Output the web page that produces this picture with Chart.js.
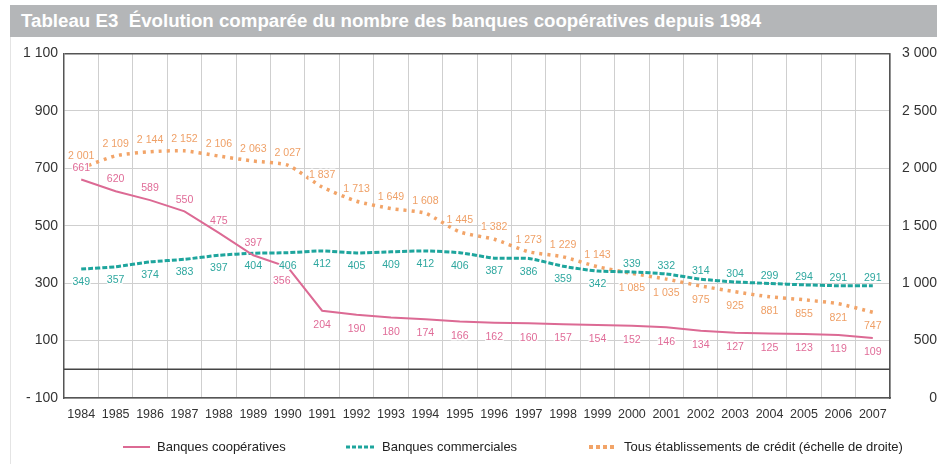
<!DOCTYPE html>
<html>
<head>
<meta charset="utf-8">
<script src="https://cdn.jsdelivr.net/npm/chart.js@4"></script>
<style>
  html, body { margin: 0; padding: 0; background: #fff; overflow: hidden; }
  body { width: 937px; height: 464px; position: relative; }
  #title {
    position: absolute; left: 10px; right: 0; top: 5px; height: 32px;
    background: #b4b6b8; color: #fff;
    font: bold 18.7px "Liberation Sans", Arial, sans-serif;
    line-height: 32px; padding-left: 11px; white-space: nowrap;
  }
  #frame { position: absolute; left: 10px; top: 37px; width: 1px; height: 427px; background: #e4e4e4; }
  #wrap { position: absolute; left: 0; top: 37px; width: 937px; height: 427px; }
</style>
</head>
<body>
<div id="title">Tableau E3&nbsp; Évolution comparée du nombre des banques coopératives depuis 1984</div>
<div id="frame"></div>
<div id="wrap"><canvas id="chart" width="937" height="427"></canvas></div>
<script>
const years = ["1984", "1985", "1986", "1987", "1988", "1989", "1990", "1991", "1992", "1993", "1994", "1995",
               "1996", "1997", "1998", "1999", "2000", "2001", "2002", "2003", "2004", "2005", "2006", "2007"];

const cooperatives = [661, 620, 589, 550, 475, 397, 356, 204, 190, 180, 174, 166,
                      162, 160, 157, 154, 152, 146, 134, 127, 125, 123, 119, 109];

const commerciales = [349, 357, 374, 383, 397, 404, 406, 412, 405, 409, 412, 406,
                      387, 386, 359, 342, 339, 332, 314, 304, 299, 294, 291, 291];

// right axis
const tousEtablissements = [2001, 2109, 2144, 2152, 2106, 2063, 2027, 1837, 1713, 1649, 1608, 1445,
                            1382, 1273, 1229, 1143, 1085, 1035, 975, 925, 881, 855, 821, 747];

const seriesNames = ["Banques coopératives", "Banques commerciales", "Tous établissements de crédit (échelle de droite)"];

const pink = "#dc6a94";
const teal = "#1ea59d";
const orange = "#f2a468";

// labels above the line up to this index, below after it
const labelSplit = [6, 16, 16];

function fmt(v) {
    if (v < 0) return "- " + fmt(-v);
    return String(v).replace(/\B(?=(\d{3})+(?!\d))/g, " ");
}

const labelsPlugin = {
    id: "pointLabels",
    afterDatasetsDraw(chart) {
        const ctx = chart.ctx;
        ctx.save();
        ctx.font = "11.5px 'Liberation Sans', Arial, sans-serif";
        ctx.textAlign = "center";
        ctx.textBaseline = "middle";
        ctx.lineJoin = "round";
        chart.data.datasets.forEach((ds, di) => {
            const meta = chart.getDatasetMeta(di);
            meta.data.forEach((pt, i) => {
                const above = i < labelSplit[di];
                let dy = above ? -12 : 14;
                if (di === 1 && !above) dy = -8;
                if (di === 1 && above) dy = 13;
                const x = pt.x + (di === 0 && i === 6 ? -6 : 0);
                const y = pt.y + dy;
                const txt = fmt(ds.data[i]);
                ctx.save();
                ctx.translate(x, y);
                ctx.scale(0.92, 1);
                ctx.strokeStyle = "rgba(255,255,255,0.9)";
                ctx.lineWidth = 3;
                ctx.strokeText(txt, 0, 0);
                ctx.fillStyle = ds.labelColor;
                ctx.fillText(txt, 0, 0);
                ctx.restore();
            });
        });
        ctx.restore();
    }
};

const extrasPlugin = {
    id: "extras",
    beforeDatasetsDraw(chart) {
        // dark line at zero
        const ctx = chart.ctx;
        const y0 = chart.scales.y.getPixelForValue(0);
        ctx.save();
        ctx.strokeStyle = "#444";
        ctx.lineWidth = 1.5;
        ctx.beginPath();
        ctx.moveTo(chart.chartArea.left, y0);
        ctx.lineTo(chart.chartArea.right, y0);
        ctx.stroke();
        ctx.restore();
    },
    afterDraw(chart) {
        const ctx = chart.ctx;
        const y = 410;
        const items = [
            { x: 123, w: 27, color: pink, dash: [], width: 2 },
            { x: 346, w: 29, color: teal, dash: [4, 2], width: 3 },
            { x: 589, w: 28, color: orange, dash: [4, 3], width: 4 }
        ];
        ctx.save();
        ctx.font = "13px 'Liberation Sans Narrow', sans-serif";
        ctx.textBaseline = "middle";
        ctx.textAlign = "left";
        items.forEach((it, k) => {
            ctx.strokeStyle = it.color;
            ctx.lineWidth = it.width;
            ctx.setLineDash(it.dash);
            ctx.beginPath();
            ctx.moveTo(it.x, y);
            ctx.lineTo(it.x + it.w, y);
            ctx.stroke();
            ctx.setLineDash([]);
            ctx.fillStyle = "#222";
            ctx.fillText(seriesNames[k], it.x + it.w + 7, y);
        });
        ctx.restore();
    }
};

const yFont = { family: "'Liberation Sans', Arial, sans-serif", size: 14 };
const xFont = { family: "'Liberation Sans', Arial, sans-serif", size: 12.5 };

new Chart(document.getElementById("chart"), {
    type: "line",
    data: {
        labels: years,
        datasets: [
            {
                label: seriesNames[0],
                data: cooperatives,
                borderColor: pink,
                labelColor: "#e06c98",
                borderWidth: 2,
                pointRadius: 0,
                tension: 0,
                yAxisID: "y"
            },
            {
                label: seriesNames[1],
                data: commerciales,
                borderColor: teal,
                labelColor: "#2ea79f",
                borderWidth: 3,
                borderDash: [5, 2],
                pointRadius: 0,
                tension: 0.2,
                yAxisID: "y"
            },
            {
                label: seriesNames[2],
                data: tousEtablissements,
                borderColor: orange,
                labelColor: "#efa067",
                borderWidth: 3.5,
                borderDash: [3, 5],
                pointRadius: 0,
                tension: 0.2,
                yAxisID: "y1"
            }
        ]
    },
    options: {
        responsive: false,
        animation: false,
        devicePixelRatio: 1,
        layout: { padding: { top: 16, bottom: 26, left: 0, right: 0 } },
        plugins: {
            legend: { display: false },
            tooltip: { enabled: false }
        },
        scales: {
            x: {
                offset: true,
                grid: { offset: true, color: "#cfcfcf", drawTicks: false },
                border: { color: "#555", width: 1.5 },
                ticks: { font: xFont, color: "#333", padding: 9, maxRotation: 0, autoSkip: false },
                afterFit(scale) { scale.height = 40; }
            },
            y: {
                position: "left",
                min: -100,
                max: 1100,
                grid: {
                    drawTicks: false,
                    color: ctx => (ctx.tick && (ctx.tick.value === 1100)) ? "#555" : "#cfcfcf",
                    lineWidth: ctx => (ctx.tick && ctx.tick.value === 1100) ? 1.5 : 1
                },
                border: { color: "#555", width: 1.5 },
                ticks: { stepSize: 200, font: yFont, color: "#333", padding: 6, callback: v => fmt(v) },
                afterFit(scale) { scale.width = 64; }
            },
            y1: {
                position: "right",
                min: 0,
                max: 3000,
                grid: { drawOnChartArea: false, drawTicks: false },
                border: { color: "#555", width: 1.5 },
                ticks: { stepSize: 500, font: yFont, color: "#333", padding: 8, crossAlign: "far", callback: v => fmt(v) },
                afterFit(scale) { scale.width = 47; }
            }
        }
    },
    plugins: [extrasPlugin, labelsPlugin]
});
</script>
</body>
</html>
